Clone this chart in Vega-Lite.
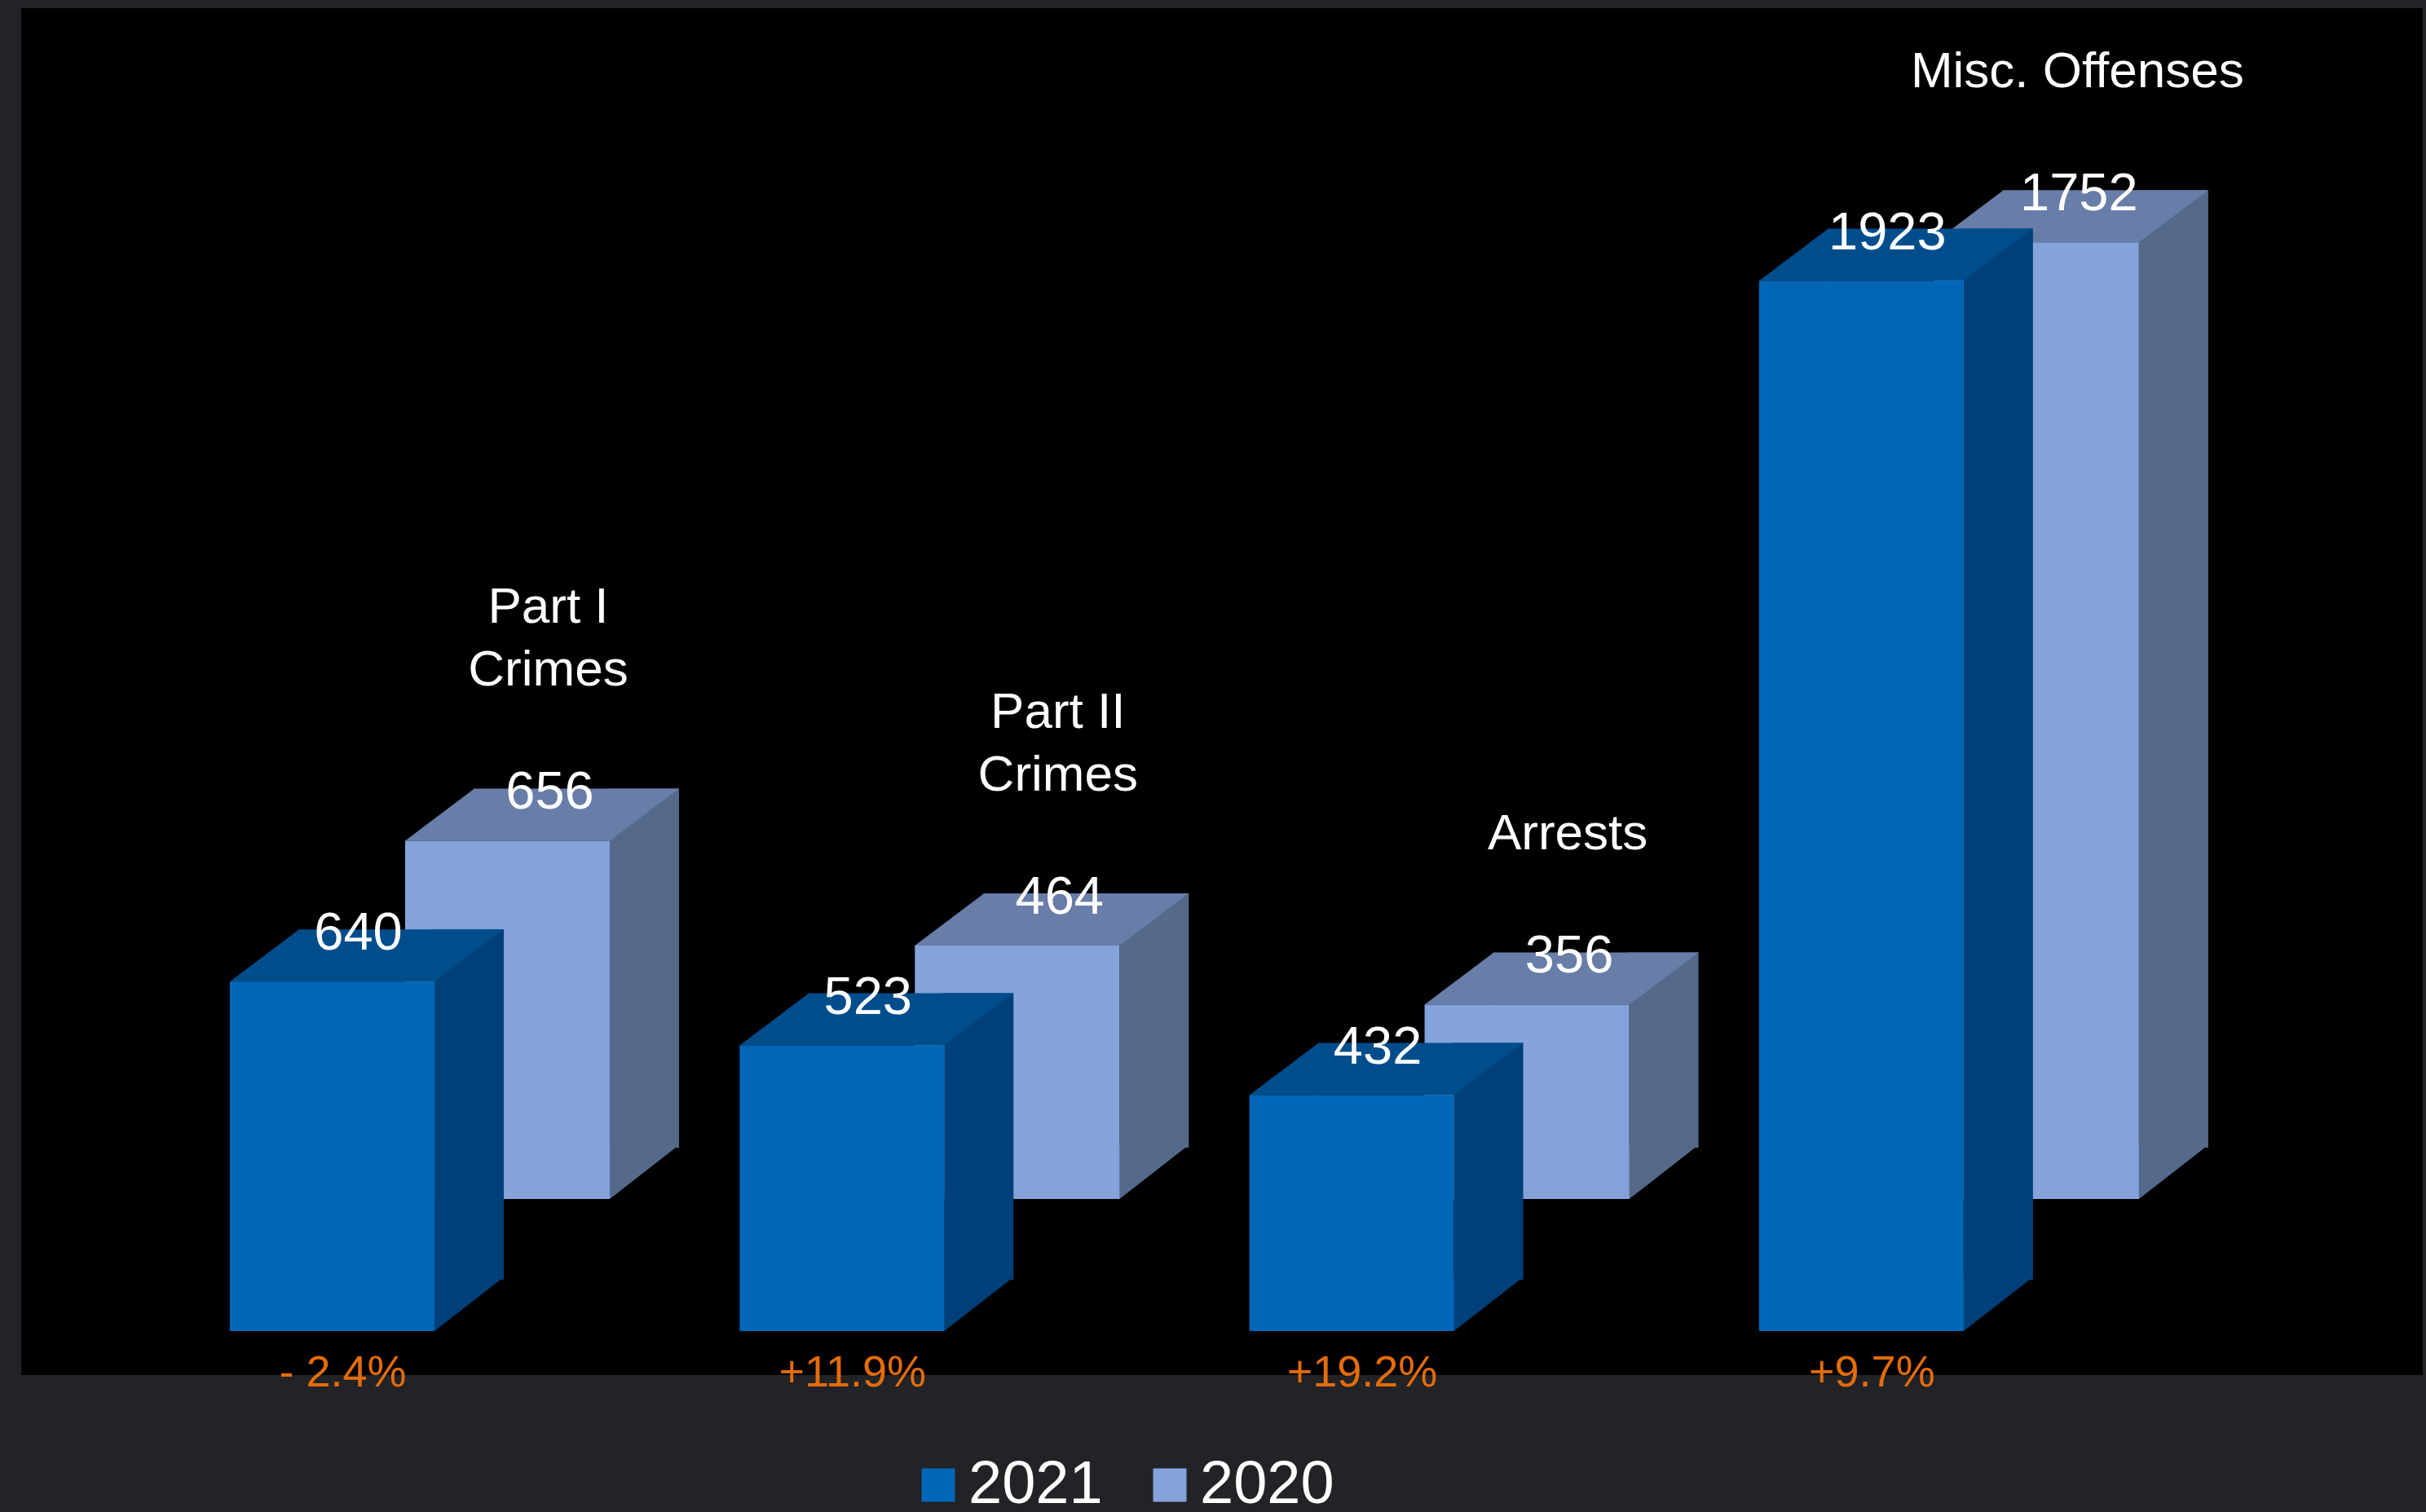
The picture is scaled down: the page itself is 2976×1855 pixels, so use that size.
{
  "$schema": "https://vega.github.io/schema/vega-lite/v6.json",
  "width": 2946,
  "height": 1677,
  "autosize": {"type": "none"},
  "padding": {"left": 26, "top": 10, "right": 4, "bottom": 168},
  "background": "#222326",
  "view": {"fill": "#000000", "stroke": null},
  "config": {"text": {"font": "Liberation Sans"}, "legend": {"labelFont": "Liberation Sans"}},
  "data": {
    "values": [
      {"category": "Part I\nCrimes", "year": "2021", "value": 640, "change": "- 2.4%"},
      {"category": "Part I\nCrimes", "year": "2020", "value": 656, "change": ""},
      {"category": "Part II\nCrimes", "year": "2021", "value": 523, "change": "+11.9%"},
      {"category": "Part II\nCrimes", "year": "2020", "value": 464, "change": ""},
      {"category": "\nArrests", "year": "2021", "value": 432, "change": "+19.2%"},
      {"category": "\nArrests", "year": "2020", "value": 356, "change": ""},
      {"category": "\nMisc. Offenses", "year": "2021", "value": 1923, "change": "+9.7%"},
      {"category": "\nMisc. Offenses", "year": "2020", "value": 1752, "change": ""}
    ]
  },
  "encoding": {
    "x": {"field": "category", "type": "nominal", "sort": null, "axis": null,
          "scale": {"paddingInner": 0.5986, "paddingOuter": 0.655, "align": 0.3125, "round": false}}
  },
  "layer": [
    {"transform": [{"filter": "datum.year == '2020'"}],
     "mark": {"type": "bar", "width": 85, "xOffset": 383, "yOffset": -226, "y2Offset": -225, "color": "#55698B"},
     "encoding": {"y": {"field": "value", "type": "quantitative", "axis": null, "scale": {"domain": [-80.6, 2422.4], "nice": false, "zero": false}}, "y2": {"datum": 0}}},
    {"transform": [{"filter": "datum.year == '2020'"}],
     "mark": {"type": "point", "shape": "M -0.05 -0.05 L 2 -0.05 L 0 1.506 L -0.05 1.506 Z", "size": 7225, "filled": true, "opacity": 1, "strokeWidth": 0, "color": "#55698B", "xOffset": 340.5, "yOffset": -226},
     "encoding": {"y": {"datum": 0, "type": "quantitative", "axis": null, "scale": {"domain": [-80.6, 2422.4], "nice": false, "zero": false}}}},
    {"transform": [{"filter": "datum.year == '2020'"}],
     "mark": {"type": "bar", "width": 167, "xOffset": 257, "yOffset": -226, "y2Offset": -162, "color": "#687DA8"},
     "encoding": {"y": {"field": "value", "type": "quantitative", "axis": null, "scale": {"domain": [-80.6, 2422.4], "nice": false, "zero": false}}, "y2": {"field": "value"}}},
    {"transform": [{"filter": "datum.year == '2020'"}],
     "mark": {"type": "point", "shape": "M 0 0 L 2 0 L 2 -1.506 Z", "size": 7225, "filled": true, "opacity": 1, "strokeWidth": 0, "color": "#687DA8", "xOffset": 89.5, "yOffset": -162},
     "encoding": {"y": {"field": "value", "type": "quantitative", "axis": null, "scale": {"domain": [-80.6, 2422.4], "nice": false, "zero": false}}}},
    {"transform": [{"filter": "datum.year == '2020'"}],
     "mark": {"type": "point", "shape": "M -0.05 0 L 0 0 L 2 -1.506 L -0.05 -1.506 Z", "size": 7225, "filled": true, "opacity": 1, "strokeWidth": 0, "color": "#687DA8", "xOffset": 340.5, "yOffset": -162},
     "encoding": {"y": {"field": "value", "type": "quantitative", "axis": null, "scale": {"domain": [-80.6, 2422.4], "nice": false, "zero": false}}}},
    {"transform": [{"filter": "datum.year == '2020'"}],
     "mark": {"type": "bar", "xOffset": 215, "yOffset": -162, "y2Offset": -162},
     "encoding": {
       "y": {"field": "value", "type": "quantitative", "axis": null, "scale": {"domain": [-80.6, 2422.4], "nice": false, "zero": false}},
       "y2": {"datum": 0},
       "color": {"field": "year", "type": "nominal",
                 "scale": {"domain": ["2021", "2020"], "range": ["#0066B8", "#84A3DB"]},
                 "legend": {"title": null, "orient": "none", "legendX": 1088, "legendY": 1775, "direction": "horizontal",
                            "symbolType": "square", "symbolSize": 1681, "symbolStrokeWidth": 0, "symbolOpacity": 1,
                            "labelFontSize": 74, "labelColor": "#FFFFFF", "labelOffset": 0, "columnPadding": 45, "padding": 0, "labelLimit": 0}}}},
    {"transform": [{"filter": "datum.year == '2021'"}],
     "mark": {"type": "bar", "width": 85, "xOffset": 168, "yOffset": -64, "y2Offset": -63, "color": "#00407A"},
     "encoding": {"y": {"field": "value", "type": "quantitative", "axis": null, "scale": {"domain": [-80.6, 2422.4], "nice": false, "zero": false}}, "y2": {"datum": 0}}},
    {"transform": [{"filter": "datum.year == '2021'"}],
     "mark": {"type": "point", "shape": "M -0.05 -0.05 L 2 -0.05 L 0 1.506 L -0.05 1.506 Z", "size": 7225, "filled": true, "opacity": 1, "strokeWidth": 0, "color": "#00407A", "xOffset": 125.5, "yOffset": -64},
     "encoding": {"y": {"datum": 0, "type": "quantitative", "axis": null, "scale": {"domain": [-80.6, 2422.4], "nice": false, "zero": false}}}},
    {"transform": [{"filter": "datum.year == '2021'"}],
     "mark": {"type": "bar", "width": 167, "xOffset": 42, "yOffset": -64, "y2Offset": 0, "color": "#004D8C"},
     "encoding": {"y": {"field": "value", "type": "quantitative", "axis": null, "scale": {"domain": [-80.6, 2422.4], "nice": false, "zero": false}}, "y2": {"field": "value"}}},
    {"transform": [{"filter": "datum.year == '2021'"}],
     "mark": {"type": "point", "shape": "M 0 0 L 2 0 L 2 -1.506 Z", "size": 7225, "filled": true, "opacity": 1, "strokeWidth": 0, "color": "#004D8C", "xOffset": -125.5, "yOffset": 0},
     "encoding": {"y": {"field": "value", "type": "quantitative", "axis": null, "scale": {"domain": [-80.6, 2422.4], "nice": false, "zero": false}}}},
    {"transform": [{"filter": "datum.year == '2021'"}],
     "mark": {"type": "point", "shape": "M -0.05 0 L 0 0 L 2 -1.506 L -0.05 -1.506 Z", "size": 7225, "filled": true, "opacity": 1, "strokeWidth": 0, "color": "#004D8C", "xOffset": 125.5, "yOffset": 0},
     "encoding": {"y": {"field": "value", "type": "quantitative", "axis": null, "scale": {"domain": [-80.6, 2422.4], "nice": false, "zero": false}}}},
    {"transform": [{"filter": "datum.year == '2021'"}],
     "mark": {"type": "bar"},
     "encoding": {
       "y": {"field": "value", "type": "quantitative", "axis": null, "scale": {"domain": [-80.6, 2422.4], "nice": false, "zero": false}},
       "y2": {"datum": 0},
       "color": {"field": "year", "type": "nominal", "scale": {"domain": ["2021", "2020"], "range": ["#0066B8", "#84A3DB"]}}}},
    {"transform": [{"filter": "datum.year == '2021'"}],
     "mark": {"type": "text", "fontSize": 65, "color": "#FFFFFF", "align": "center", "baseline": "alphabetic", "xOffset": 32, "yOffset": -39},
     "encoding": {"y": {"field": "value", "type": "quantitative", "axis": null, "scale": {"domain": [-80.6, 2422.4], "nice": false, "zero": false}}, "text": {"field": "value"}}},
    {"transform": [{"filter": "datum.year == '2020'"}],
     "mark": {"type": "text", "fontSize": 65, "color": "#FFFFFF", "align": "center", "baseline": "alphabetic", "xOffset": 267, "yOffset": -201},
     "encoding": {"y": {"field": "value", "type": "quantitative", "axis": null, "scale": {"domain": [-80.6, 2422.4], "nice": false, "zero": false}}, "text": {"field": "value"}}},
    {"transform": [{"filter": "datum.year == '2020'"}],
     "mark": {"type": "text", "fontSize": 62, "color": "#FFFFFF", "align": "center", "baseline": "alphabetic", "lineBreak": "\n", "lineHeight": 77, "xOffset": 265, "yOffset": -429},
     "encoding": {"y": {"field": "value", "type": "quantitative", "axis": null, "scale": {"domain": [-80.6, 2422.4], "nice": false, "zero": false}}, "text": {"field": "category"}}},
    {"transform": [{"filter": "datum.year == '2021'"}],
     "mark": {"type": "text", "fontSize": 54, "color": "#E46C0A", "align": "center", "baseline": "alphabetic", "xOffset": 13, "yOffset": 68},
     "encoding": {"y": {"datum": 0, "type": "quantitative", "axis": null, "scale": {"domain": [-80.6, 2422.4], "nice": false, "zero": false}}, "text": {"field": "change"}}}
  ]
}
